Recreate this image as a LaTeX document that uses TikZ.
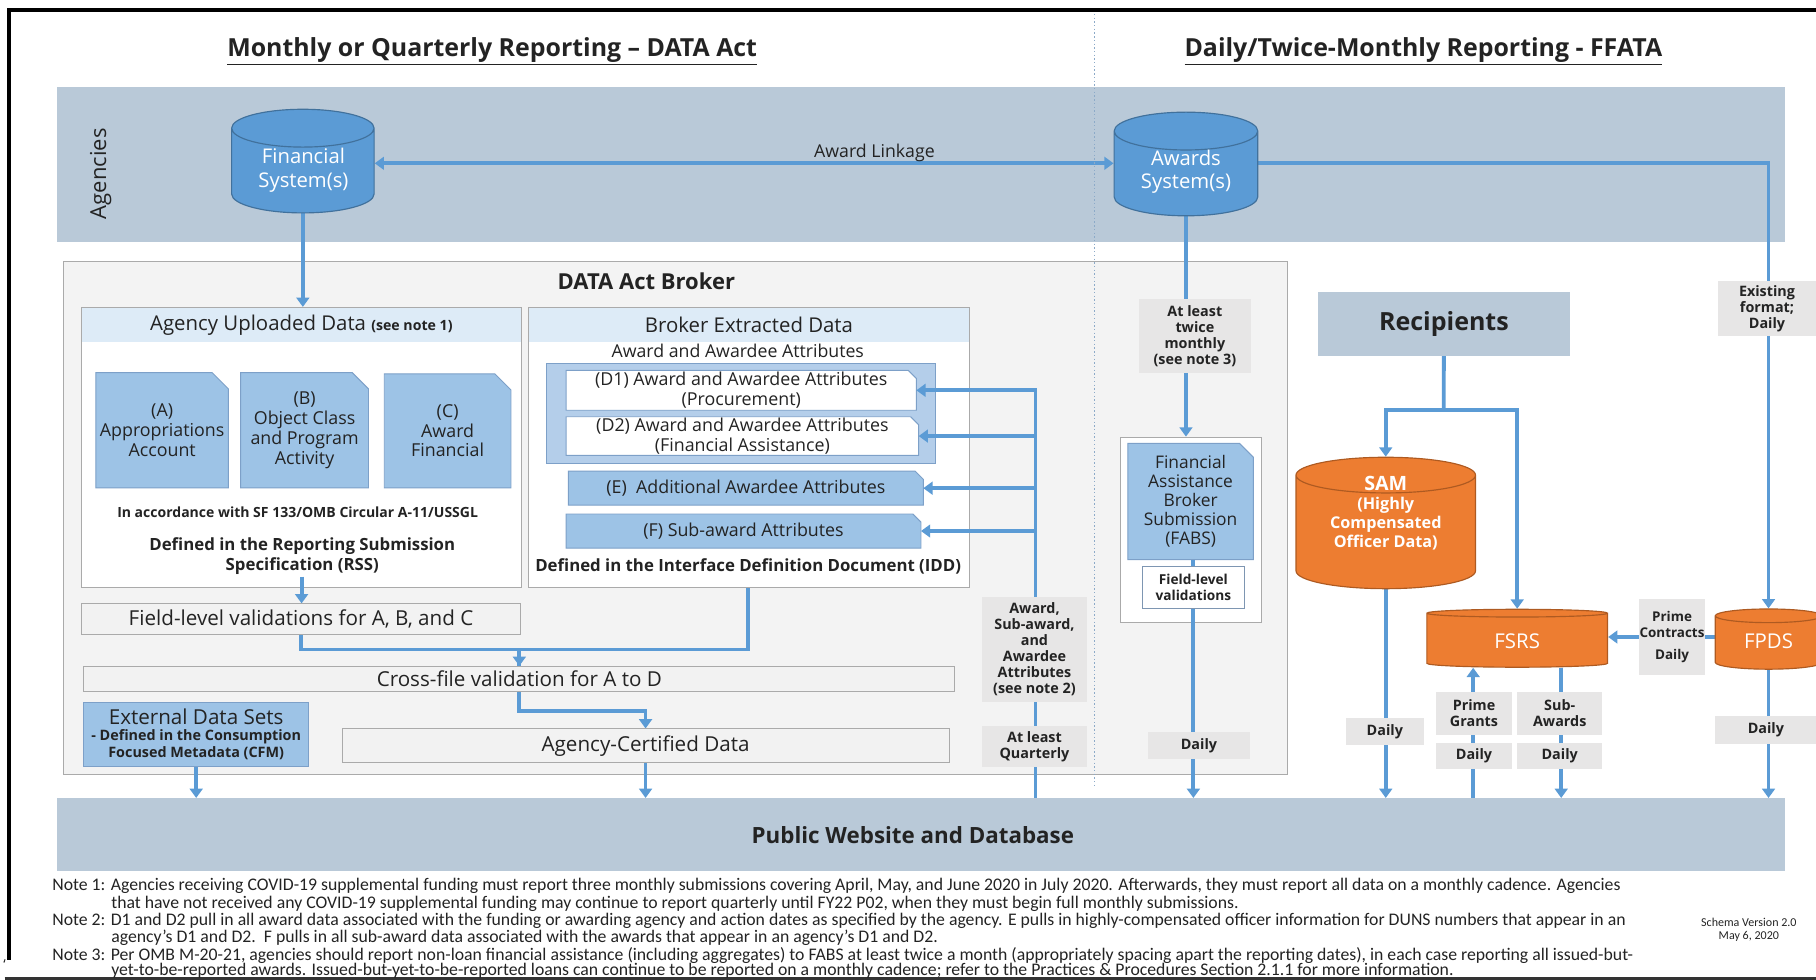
\documentclass[tikz,border=0pt]{standalone}
\usepackage{fontspec}
\setmainfont{Open Sans}
\newfontfamily\notefont{Carlito}
\usetikzlibrary{shapes.geometric,arrows.meta,calc}
\newcommand\fsz[2]{\fontsize{#1}{#2}\selectfont}
\newcommand\cylph[1]{\phantom{\begin{tabular}{@{}c@{}}#1\end{tabular}}}
\definecolor{band}{RGB}{185,201,216}
\definecolor{ablue}{RGB}{91,155,213}
\definecolor{cylbd}{RGB}{65,113,156}
\definecolor{docblue}{RGB}{157,195,230}
\definecolor{docbd}{RGB}{125,160,200}
\definecolor{hdr}{RGB}{221,235,247}
\definecolor{dgrp}{RGB}{180,206,234}
\definecolor{lgray}{RGB}{231,230,230}
\definecolor{boxgray}{RGB}{242,242,242}
\definecolor{bord}{RGB}{170,170,170}
\definecolor{orng}{RGB}{237,125,49}
\definecolor{orbd}{RGB}{174,90,33}
\definecolor{txt}{RGB}{35,35,35}
\definecolor{brokerbg}{RGB}{243,243,243}
\definecolor{divc}{RGB}{140,170,200}
\pgfdeclarelayer{back}\pgfdeclarelayer{mid}\pgfdeclarelayer{lines}
\pgfsetlayers{back,mid,lines,main}
\newcommand\docpoly[3]{\fill[#3] (#1.south west) -- (#1.north west) -- ([xshift=-#2pt]#1.north east) -- ([yshift=-#2pt]#1.north east) -- (#1.south east) -- cycle;}
\tikzset{
  arr/.style={draw=ablue, line width=3.3pt, -{Triangle[length=8pt,width=11pt]}},
  arrboth/.style={draw=ablue, line width=3.3pt, {Triangle[length=8pt,width=11pt]}-{Triangle[length=8pt,width=11pt]}},
  ln/.style={draw=ablue, line width=3.3pt},
  rbox/.style={anchor=north west, inner sep=0pt, align=center, text=txt},
  bandbox/.style={rbox, fill=band},
  lbl/.style={rbox, fill=lgray, font=\bfseries\fsz{12.4}{13.8}},
  grayval/.style={rbox, fill=boxgray, draw=bord, line width=0.8pt, font=\fsz{17.8}{20}},
  docn/.style={inner sep=0pt, align=center, text=txt},
  cylblue/.style={cylinder, shape border rotate=90, draw=cylbd, fill=ablue, line width=1pt, inner sep=0pt, font=\fsz{17.5}{20}},
  cylor/.style={cylinder, shape border rotate=90, draw=orbd, fill=orng, line width=1pt, inner sep=0pt},
  cyltext/.style={text=white, align=center, inner sep=0pt},
}
\begin{document}
\begin{tikzpicture}[x=1pt, y=-1pt]
\useasboundingbox (0,0) rectangle (1568,846);
% ---------- titles
\node[text=txt, font=\bfseries\fsz{21.5}{24}] (t1) at (425,44) {\underline{Monthly or Quarterly Reporting – DATA Act}};
\node[text=txt, font=\bfseries\fsz{21.5}{24}] (t2) at (1229,44) {\underline{Daily/Twice-Monthly Reporting - FFATA}};
% ---------- background bands and boxes
\begin{pgfonlayer}{back}
\node[bandbox, minimum width=1492pt, minimum height=134pt] (agband) at (49,75) {};
\node[bandbox, minimum width=1492pt, minimum height=63pt, font=\bfseries\fsz{19.3}{22}] (pub) at (49,689) {\hspace*{-14pt}Public Website and Database};
\node[rbox, fill=brokerbg, draw=bord, line width=0.8pt, minimum width=1057pt, minimum height=443pt] (broker) at (54,225) {};
\node[rbox, fill=white, draw=bord, line width=0.8pt, minimum width=380pt, minimum height=242pt] (aud) at (70,265) {};
\node[rbox, fill=hdr, minimum width=379pt, minimum height=30pt, font=\fsz{17.6}{20}] (audh) at (70.5,265.5) {Agency Uploaded Data {\bfseries\fsz{12.2}{14}(see note 1)}};
\node[rbox, fill=white, draw=bord, line width=0.8pt, minimum width=381pt, minimum height=242pt] (bed) at (456,265) {};
\node[rbox, fill=hdr, minimum width=380pt, minimum height=30pt, font=\fsz{17.6}{20}] (bedh) at (456.5,265.5) {Broker Extracted Data};
\node[rbox, fill=dgrp, draw=docbd, line width=0.8pt, minimum width=336pt, minimum height=87pt] (dgrp) at (471,313) {};
\node[rbox, fill=white, draw=bord, line width=0.8pt, minimum width=122pt, minimum height=160pt] (fabsout) at (967,377) {};
\end{pgfonlayer}
\draw[divc, dotted, line width=1.2pt] (945,12) -- (945,680);
% ---------- frame
\draw[black, line width=3.5pt] (1570,9) -- (8,9) -- (8,829);
\draw[black!80, line width=3.5pt] (4,845) -- (1570,845);
\node[text=txt, font=\fsz{12}{12}] (tick) at (4,833) {`};
% ---------- Agencies band contents
\coordinate (linky) at (0,141);
\coordinate (pcy) at (0,550);
\node[rotate=90, text=txt, font=\fsz{19}{22}] (aglbl) at (87,150) {Agencies};
\node[cylblue, minimum width=123pt, minimum height=47pt, aspect=0.42] (fin) at (261.5,147.5) {\cylph{Financial\\System(s)}};
\node[cyltext, font=\fsz{17.5}{20}] (fint) at (262,147) {Financial\\System(s)};
\node[cylblue, minimum width=124pt, minimum height=48pt, aspect=0.42] (aw) at (1024,150) {\cylph{Awards\\System(s)}};
\node[cyltext, font=\fsz{17.5}{20}] (awt) at (1024,148.5) {Awards\\System(s)};
\node[text=txt, font=\fsz{15.3}{17}] (alk) at (755,132) {Award Linkage};
% ---------- Broker
\node[text=txt, font=\bfseries\fsz{19}{22}] (brt) at (558,243) {DATA Act Broker};
\node[docn, minimum width=114pt, minimum height=99pt, font=\fsz{15.4}{17}] (docA) at (140,371.5) {(A)\\Appropriations\\Account};
\node[docn, minimum width=110pt, minimum height=99pt, font=\fsz{15.4}{17}] (docB) at (263,371.5) {(B)\\Object Class\\and Program\\Activity};
\node[docn, minimum width=109pt, minimum height=98pt, font=\fsz{15.4}{17}] (docC) at (386.5,372) {(C)\\Award\\Financial};
\node[text=txt, font=\bfseries\fsz{12.1}{14}] (sf) at (257,442) {In accordance with SF 133/OMB Circular A-11/USSGL};
\node[text=txt, align=center, font=\bfseries\fsz{14.5}{17}] (rss) at (261,480) {Defined in the Reporting Submission\\Specification (RSS)};
\node[text=txt, font=\fsz{15.3}{17}] (aaa) at (637,303) {Award and Awardee Attributes};
\node[docn, minimum width=302pt, minimum height=34pt, font=\fsz{15.4}{17}] (d1) at (640,337) {(D1) Award and Awardee Attributes\\(Procurement)};
\node[docn, minimum width=304pt, minimum height=33pt, font=\fsz{15.4}{17}] (d2) at (641,376.5) {(D2) Award and Awardee Attributes\\(Financial Assistance)};
\node[docn, minimum width=306pt, minimum height=29pt, font=\fsz{15.4}{17}] (de) at (644,421.5) {(E)\ \ Additional Awardee Attributes};
\node[docn, minimum width=306pt, minimum height=29pt, font=\fsz{15.4}{17}] (df) at (642,458.5) {(F) Sub-award Attributes};
\node[text=txt, font=\bfseries\fsz{14.5}{17}] (idd) at (646,489) {Defined in the Interface Definition Document (IDD)};
\node[grayval, minimum width=379pt, minimum height=26pt] (fld) at (70,521) {Field-level validations for A, B, and C};
\node[grayval, minimum width=752pt, minimum height=22pt] (cross) at (72,575) {Cross-file validation for A to D};
\node[grayval, minimum width=524pt, minimum height=29pt] (cert) at (295,629) {Agency-Certified Data};
\node[rbox, fill=docblue, draw=docbd, line width=0.8pt, minimum width=194pt, minimum height=55pt, font=\bfseries\fsz{12.4}{14}] (ext) at (72,606) {{\mdseries\fsz{17.8}{19}External Data Sets}\\- Defined in the Consumption\\Focused Metadata (CFM)};
\node[lbl, minimum width=90pt, minimum height=91pt] (lbaw) at (848,515) {Award,\\Sub-award,\\and\\Awardee\\Attributes\\(see note 2)};
\node[lbl, minimum width=90pt, minimum height=35pt] (lbq) at (848,627) {At least\\Quarterly};
% ---------- FABS
\node[lbl, minimum width=97pt, minimum height=64pt] (lbtw) at (983,258) {At least\\twice\\monthly\\(see note 3)};
\node[docn, minimum width=108pt, minimum height=100pt, font=\fsz{15}{16.5}] (fabs) at (1028,433) {Financial\\Assistance\\Broker\\Submission\\(FABS)};
\node[rbox, fill=white, draw=docbd!70!gray, line width=0.8pt, minimum width=88pt, minimum height=36pt, font=\bfseries\fsz{11.8}{14}] (fl) at (986,489) {Field-level\\validations};
\node[lbl, minimum width=88pt, minimum height=23pt] (lbfd) at (991,632) {Daily};
% ---------- Recipients side
\node[bandbox, minimum width=217pt, minimum height=55pt, font=\bfseries\fsz{21.6}{24}] (rec) at (1138,252) {Recipients};
\node[cylor, minimum width=155pt, minimum height=27pt, aspect=0.32, font=\bfseries\fsz{14}{16.5}] (sam) at (1196.5,459.5) {\cylph{{\fsz{17}{19}SAM}\\(Highly\\Compensated\\Officer Data)}};
\node[cyltext, font=\bfseries\fsz{14}{16.5}] (samt) at (1196.5,443) {{\fsz{17}{19}SAM}\\(Highly\\Compensated\\Officer Data)};
\node[cylor, minimum width=156pt, minimum height=50pt, aspect=0.17, font=\fsz{17.6}{19}] (fsrs) at (1310,553) {\cylph{FSRS}};
\node[cyltext, font=\fsz{17.6}{19}] (fsrst) at (1310,554) {FSRS};
\node[cylor, minimum width=92pt, minimum height=52pt, aspect=0.28, font=\fsz{17.6}{19}] (fpds) at (1527,555) {\cylph{FPDS}};
\node[cyltext, font=\fsz{17.6}{19}] (fpdst) at (1527,554) {FPDS};
\node[lbl, minimum width=85pt, minimum height=48pt] (lbex) at (1483,242) {Existing\\format;\\Daily};
\node[lbl, minimum width=57pt, minimum height=66pt, font=\bfseries\fsz{11.6}{13.8}] (lbpc) at (1415,517) {Prime\\Contracts\\[5pt]Daily};
\node[lbl, minimum width=67pt, minimum height=23pt] (lbsd) at (1162,620) {Daily};
\node[lbl, minimum width=65pt, minimum height=37pt] (lbpg) at (1240,597) {Prime\\Grants};
\node[lbl, minimum width=65pt, minimum height=23pt] (lbpgd) at (1240,641) {Daily};
\node[lbl, minimum width=73pt, minimum height=37pt] (lbsa) at (1310,597) {Sub-\\Awards};
\node[lbl, minimum width=73pt, minimum height=23pt] (lbsad) at (1310,641) {Daily};
\node[lbl, minimum width=87pt, minimum height=24pt] (lbfpd) at (1481,618) {Daily};
% ---------- document shapes
\begin{pgfonlayer}{mid}
\docpoly{docA}{14}{docblue, draw=docbd, line width=0.8pt}
\docpoly{docB}{14}{docblue, draw=docbd, line width=0.8pt}
\docpoly{docC}{14}{docblue, draw=docbd, line width=0.8pt}
\docpoly{d1}{7}{white, draw=docbd, line width=0.8pt}
\docpoly{d2}{7}{white, draw=docbd, line width=0.8pt}
\docpoly{de}{7}{docblue, draw=docbd, line width=0.8pt}
\docpoly{df}{7}{docblue, draw=docbd, line width=0.8pt}
\docpoly{fabs}{12}{docblue, draw=docbd, line width=0.8pt}
\end{pgfonlayer}
% ---------- connectors
\coordinate (fbx) at (894,0);
\coordinate (rj) at (1246.5,354);
\coordinate (pgx) at (1272,0);
\coordinate (sax) at (1348,0);
\begin{pgfonlayer}{lines}
\draw[arrboth] (fin.east |- linky) -- (aw.west |- linky);
\draw[arr] (aw.east |- linky) -| (fpds.north);
\draw[arr] (fin.south) -- (fin.south |- aud.north);
\draw[arr] ([yshift=10pt]aud.south) -- (aud.south |- fld.north);
\draw[arr] (fld.south) -- ++(0,13) -| (cross.north);
\draw[ln] (bed.south -| idd.south) -- ++(0,53) -| (cross.north);
\draw[arr] (cross.south) -- ++(0,16) -| (cert.north);
\draw[arr] (ext.south) -- (ext.south |- pub.north);
\draw[arr] (cert.south) -- (cert.south |- pub.north);
\draw[arr] (fbx |- pub.north) -- (fbx |- d1.east) -- (d1.east);
\draw[arr] (fbx |- d2.east) -- (d2.east);
\draw[arr] (fbx |- de.east) -- (de.east);
\draw[arr] (fbx |- df.east) -- (df.east);
\draw[arr] (aw.south) -- (aw.south |- fabsout.north);
\draw[ln] (fabs.south -| fl.north) -- (fl.north);
\draw[arr] (fl.south) -- (fl.south |- pub.north);
\draw[ln] (rec.south) -- (rj);
\draw[arr] (rj) -| (sam.north);
\draw[arr] (rj) -| (fsrs.north);
\draw[arr] (sam.south) -- (sam.south |- pub.north);
\draw[arr] (fpds.west |- pcy) -- (fsrs.east |- pcy);
\draw[arr] (pgx |- pub.north) -- (pgx |- fsrs.south);
\draw[arr] (sax |- fsrs.south) -- (sax |- pub.north);
\draw[arr] (fpds.south) -- (fpds.south |- pub.north);
\end{pgfonlayer}
% ---------- notes
\begin{scope}[every node/.style={anchor=west, inner sep=0pt, text=txt, font=\notefont\fsz{15.3}{15}}]
\node (n1a) at (45,765) {Note 1: Agencies receiving COVID-19 supplemental funding must report three monthly submissions covering April, May, and June 2020 in July 2020. Afterwards, they must report all data on a monthly cadence. Agencies};
\node (n1b) at (96,780) {that have not received any COVID-19 supplemental funding may continue to report quarterly until FY22 P02, when they must begin full monthly submissions.};
\node (n2a) at (45,795) {Note 2: D1 and D2 pull in all award data associated with the funding or awarding agency and action dates as specified by the agency. E pulls in highly-compensated officer information for DUNS numbers that appear in an};
\node (n2b) at (96,810) {agency’s D1 and D2.\ \ F pulls in all sub-award data associated with the awards that appear in an agency’s D1 and D2.};
\node (n3a) at (45,825) {Note 3: Per OMB M-20-21, agencies should report non-loan financial assistance (including aggregates) to FABS at least twice a month (appropriately spacing apart the reporting dates), in each case reporting all issued-but-};
\node (n3b) at (96,838.5) {yet-to-be-reported awards. Issued-but-yet-to-be-reported loans can continue to be reported on a monthly cadence; refer to the Practices \& Procedures Section 2.1.1 for more information.};
\end{scope}
\node[align=center, text=txt, font=\notefont\fsz{10.4}{11.5}] (schema) at (1510,803) {Schema Version 2.0\\May 6, 2020};
\end{tikzpicture}
\end{document}
